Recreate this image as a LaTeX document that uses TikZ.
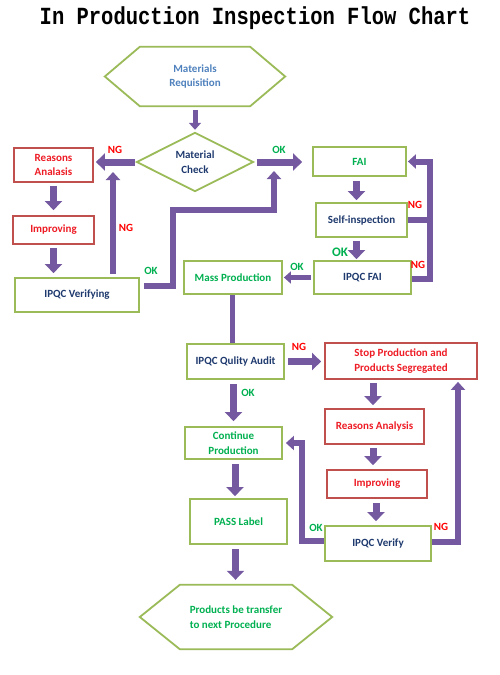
\documentclass[tikz,border=0pt]{standalone}
\usepackage{fontspec}
\usepackage{graphicx}
\setmainfont{Carlito}
\newfontfamily\titlefont{Liberation Mono}
\usetikzlibrary{arrows.meta}
\definecolor{navyt}{HTML}{1F3A6E}
\definecolor{greent}{HTML}{00B050}
\definecolor{redt}{HTML}{EE1C25}
\definecolor{bluet}{HTML}{4F81BD}
\definecolor{gbord}{HTML}{9BBB59}
\definecolor{rbord}{HTML}{C0504D}
\definecolor{purp}{HTML}{7458A0}
\begin{document}
\begin{tikzpicture}[x=1pt,y=-1pt,
  txt/.style={font=\bfseries\fontsize{11}{14.5}\selectfont},
  gbox/.style={txt,draw=gbord,line width=1.8pt,fill=white,inner sep=1pt,align=center,text=navyt},
  rbox/.style={gbox,draw=rbord,text=redt},
  shapeline/.style={draw=gbord,line width=1.8pt,line join=miter},
  bigarrow/.style={draw=purp,line width=7pt,-{Triangle[width=17pt,length=9pt]}},
  smallarrow/.style={draw=purp,line width=5pt,-{Triangle[width=12pt,length=7pt]}},
  loopline/.style={draw=purp,line width=6pt,line join=miter},
  looparrow/.style={loopline,-{Triangle[width=14pt,length=8pt]}},
  oklab/.style={font=\bfseries\fontsize{11}{13}\selectfont,text=greent,inner sep=0pt},
  nglab/.style={font=\bfseries\fontsize{11}{13}\selectfont,text=red,inner sep=0pt}]
\useasboundingbox (0,0) rectangle (500,675);

% title
\node (title) at (255,18) {\titlefont\bfseries\fontsize{20.5}{24}\selectfont\scalebox{1}[1.2]{In Production Inspection Flow Chart}};

% top hexagon
\node[txt,text=bluet,align=center,minimum width=180pt,minimum height=59pt,inner sep=0pt] (mr) at (195,76.5) {Materials\\Requisition};
\draw[shapeline] (mr.west) -- ([xshift=35pt]mr.north west) -- ([xshift=-35pt]mr.north east) -- (mr.east) -- ([xshift=-35pt]mr.south east) -- ([xshift=35pt]mr.south west) -- cycle;

% diamond
\node[txt,text=navyt,align=center,minimum width=116pt,minimum height=58pt,inner sep=0pt] (mc) at (195,162) {Material\\Check};
\draw[shapeline] (mc.west) -- (mc.north) -- (mc.east) -- (mc.south) -- cycle;

% left column
\node[rbox,minimum width=79pt,minimum height=34pt] (rl) at (53.5,165) {Reasons\\Analasis};
\node[rbox,minimum width=81pt,minimum height=28pt] (il) at (53.5,230) {Improving};
\node[gbox,minimum width=124pt,minimum height=34pt] (ver) at (77,295) {IPQC Verifying};

% right upper column
\node[gbox,text=greent,minimum width=93pt,minimum height=29pt] (fai) at (359.5,161.5) {FAI};
\node[gbox,minimum width=91pt,minimum height=34pt] (self) at (361.5,220) {Self-inspection};
\node[gbox,minimum width=97pt,minimum height=33pt] (ipf) at (362.5,277.5) {IPQC FAI};
\node[gbox,text=greent,minimum width=98pt,minimum height=33pt] (mass) at (233,277.5) {Mass Production};

% middle
\node[gbox,minimum width=97pt,minimum height=35pt] (aud) at (235.5,361.5) {IPQC Qulity Audit};
\node[rbox,minimum width=152pt,minimum height=36pt] (stop) at (401,361) {Stop Production and\\Products Segregated};
\node[rbox,minimum width=99pt,minimum height=35pt] (rr) at (374.5,426.5) {Reasons Analysis};
\node[rbox,minimum width=100pt,minimum height=28pt] (ir) at (377,484) {Improving};
\node[gbox,minimum width=106pt,minimum height=35pt] (vfy) at (378,543.5) {IPQC Verify};
\node[gbox,text=greent,minimum width=97pt,minimum height=32pt] (cont) at (233.5,443) {Continue\\Production};
\node[gbox,text=greent,minimum width=97pt,minimum height=45pt] (pass) at (238.5,521.5) {PASS Label};

% bottom hexagon
\node[txt,text=greent,align=left,minimum width=192pt,minimum height=64pt,inner sep=0pt] (tr) at (236,617) {Products be transfer\\to next Procedure};
\draw[shapeline] (tr.west) -- ([xshift=40pt]tr.north west) -- ([xshift=-40pt]tr.north east) -- (tr.east) -- ([xshift=-40pt]tr.south east) -- ([xshift=40pt]tr.south west) -- cycle;

% coordinates for connector corners / free ends
\coordinate (ngtip) at (113,172);
\coordinate (okA) at (173,210);
\coordinate (oktip) at (274,171);
\coordinate (ngR) at (430,220);
\coordinate (okL) at (302,443);
\coordinate (ngL) at (458,545);

% arrows
\draw[smallarrow,shorten <=4pt,shorten >=3pt] (mr.south) -- (mc.north);
\draw[bigarrow,shorten <=4pt] (mc.east) -- ([xshift=-10pt]mc.east -| fai.west);
\draw[bigarrow,shorten <=2pt,shorten >=2pt] (mc.west) -- (mc.west -| rl.east);
\draw[bigarrow,shorten <=3pt,shorten >=5pt] (rl.south) -- (il.north);
\draw[bigarrow,shorten <=3pt,shorten >=4pt] (il.south) -- (il.south |- ver.north);
\draw[looparrow,shorten <=3pt] (ngtip |- ver.north) -- (ngtip);
\draw[looparrow,shorten <=4pt] ([yshift=9pt]ver.east) -| (okA) -| (oktip);

\draw[bigarrow,shorten <=4pt,shorten >=2pt] ([xshift=-3pt]fai.south) -- ([xshift=-3pt]fai.south |- self.north);
\draw[bigarrow,shorten <=3pt,shorten >=1pt] ([xshift=-5pt]self.south) -- ([xshift=-5pt]self.south |- ipf.north);
\draw[loopline] (self.east) -- (self.east -| ngR);
\draw[looparrow,shorten >=1pt] ([yshift=-1.5pt]ipf.east) -| (ngR) |- (fai.east);
\draw[smallarrow,shorten <=2pt,shorten >=1pt] (ipf.west) -- (mass.east);

\draw[draw=purp,line width=5pt] ([xshift=-1pt]mass.south) -- ([xshift=-1pt]mass.south |- aud.north);
\draw[bigarrow,shorten <=3pt,shorten >=3pt] (aud.east) -- (aud.east -| stop.west);
\draw[bigarrow,shorten <=3pt,shorten >=3pt] ([xshift=-1.5pt]rr.north |- stop.south) -- ([xshift=-1.5pt]rr.north);
\draw[bigarrow,shorten <=3pt,shorten >=4pt] ([xshift=-1.5pt]rr.south) -- ([xshift=-1.5pt]rr.south |- ir.north);
\draw[bigarrow,shorten <=4pt,shorten >=4pt] ([xshift=-1pt]ir.south) -- ([xshift=-1pt]ir.south |- vfy.north);
\draw[bigarrow,shorten <=4pt,shorten >=5pt] (cont.north |- aud.south) -- (cont.north);
\draw[bigarrow,shorten <=4pt,shorten >=2pt] ([xshift=1.5pt]cont.south) -- ([xshift=1.5pt]cont.south |- pass.north);
\draw[bigarrow,shorten <=4pt,shorten >=5pt] ([xshift=-3pt]pass.south) -- ([xshift=-3pt]pass.south |- tr.north);
\draw[looparrow,shorten >=3pt] ([yshift=3pt]vfy.west) -| (okL) -- (cont.east);
\draw[looparrow,shorten >=2pt] ([yshift=1.5pt]vfy.east) -| (ngL |- stop.south);

% labels
\node[oklab] (l1) at (279,150) {OK};
\node[nglab] (l2) at (115,150) {NG};
\node[nglab] (l3) at (126,228) {NG};
\node[oklab] (l4) at (151,271) {OK};
\node[oklab,font=\bfseries\fontsize{13}{15}\selectfont] (l5) at (340,252) {OK};
\node[nglab] (l6) at (415,205) {NG};
\node[nglab] (l7) at (418,265) {NG};
\node[oklab] (l8) at (297,267) {OK};
\node[nglab] (l9) at (299,347) {NG};
\node[oklab] (l10) at (248,393) {OK};
\node[oklab] (l11) at (316,528) {OK};
\node[nglab] (l12) at (441,527) {NG};
\end{tikzpicture}
\end{document}
